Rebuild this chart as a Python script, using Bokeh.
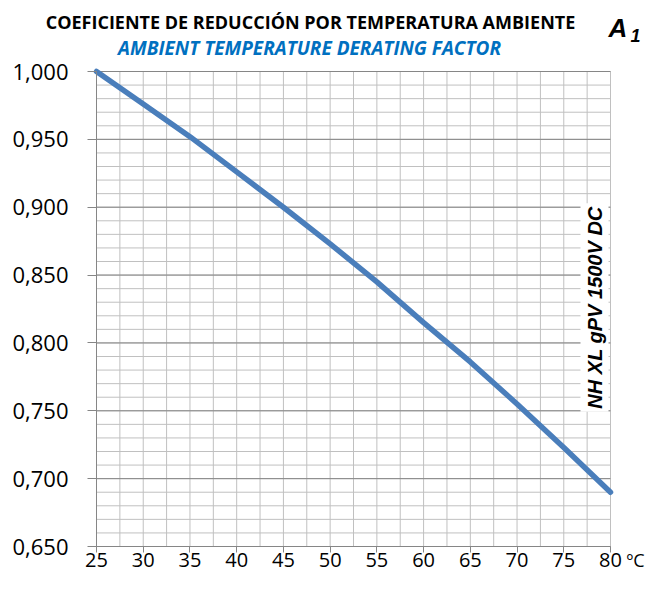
from bokeh.plotting import figure
from bokeh.models import Range1d, FixedTicker, CustomJSTickFormatter, Label
from bokeh.core.properties import value
from bokeh.embed import file_html
from bokeh.resources import INLINE
import math

# ---- data ----
temps = [25, 30, 35, 40, 45, 50, 55, 60, 65, 70, 75, 80]
factor = [1.000, 0.976, 0.952, 0.926, 0.900, 0.873, 0.845, 0.815, 0.786, 0.755, 0.723, 0.690]
x_ticks = [25, 30, 35, 40, 45, 50, 55, 60, 65, 70, 75, 80]
x_labels = ["25", "30", "35", "40", "45", "50", "55", "60", "65", "70", "75", "80"]
x_minor = [25 + 2.5 * i for i in range(23)]
y_ticks = [0.65, 0.70, 0.75, 0.80, 0.85, 0.90, 0.95, 1.00]
y_labels = ["0,650", "0,700", "0,750", "0,800", "0,850", "0,900", "0,950", "1,000"]
y_minor = [round(0.65 + 0.01 * i, 2) for i in range(36)]
x_lo, x_hi = 25, 80
y_lo, y_hi = 0.65, 1.0
title_es = "COEFICIENTE DE REDUCCIÓN POR TEMPERATURA AMBIENTE"
title_en = "AMBIENT TEMPERATURE DERATING FACTOR"
side_text = "NH XL gPV 1500V DC"
unit_text = "ºC"

# ---- layout (pixels) ----
W, H = 645, 573
FL, FB = 10, 567            # frame left / bottom pixel
PX_L, PX_R = 96, 610        # pixels of x = 25 and x = 80
PX_T, PX_B = 71, 546        # pixels of y = 1.0 and y = 0.65
sx = (PX_R - PX_L) / (x_hi - x_lo)     # px per unit x
ky = (y_hi - y_lo) / (PX_B - PX_T)     # y units per px

def dx(px):
    return x_lo + (px - PX_L) / sx

def dy(py):
    return y_lo + (PX_B - py) * ky

p = figure(width=W, height=H, output_backend="svg", toolbar_location=None,
           x_range=Range1d(dx(FL), dx(W)), y_range=Range1d(dy(FB), dy(0)),
           min_border=0)
p.min_border_left = FL
p.min_border_bottom = H - FB
p.outline_line_color = None
p.background_fill_color = "white"
p.border_fill_color = "white"
p.xgrid.visible = False
p.ygrid.visible = False

dark = "#868686"
light = "#c0c0c0"

p.xaxis.ticker = FixedTicker(ticks=x_ticks)
p.yaxis.ticker = FixedTicker(ticks=y_ticks)
p.xaxis.bounds = (x_lo, x_hi)
p.yaxis.bounds = (y_lo, y_hi)
p.xaxis.fixed_location = y_lo
p.yaxis.fixed_location = x_lo
for ax in (p.xaxis, p.yaxis):
    ax.formatter = CustomJSTickFormatter(code="return '';")
    ax.major_label_text_font_size = "1px"
    ax.major_label_standoff = 0
    ax.axis_line_color = dark
    ax.axis_line_width = 1
    ax.major_tick_line_color = dark
    ax.major_tick_in = 0
    ax.minor_tick_line_color = None
p.yaxis.major_tick_out = 9
p.xaxis.major_tick_out = 6

# grid drawn through the scales
p.segment(x0=x_minor, y0=y_lo, x1=x_minor, y1=y_hi, line_color=light, line_width=1)
p.segment(x0=x_lo, y0=y_minor, x1=x_hi, y1=y_minor, line_color=light, line_width=1)
p.segment(x0=x_lo, y0=y_ticks, x1=x_hi, y1=y_ticks, line_color=dark, line_width=1)

p.line(temps, factor, line_color="#4a7ebb", line_width=5.5, line_cap="round")

# tick labels
p.text(x=[dx(68)] * len(y_ticks), y=y_ticks, text=y_labels, text_align="right",
       text_baseline="middle", text_font=value("Open Sans"), text_font_size="22px",
       text_color="black")
p.text(x=x_ticks, y=[dy(559)] * len(x_ticks), text=x_labels, text_align="center",
       text_baseline="middle", text_font=value("Open Sans"), text_font_size="20px",
       text_color="black")

def lab(x, y, text, **kw):
    p.add_layout(Label(x=x, y=y, x_units="canvas", y_units="canvas", text=text, **kw))

lab(310, 21, title_es, text_align="center", text_baseline="middle",
    text_font="Open Sans", text_font_style="bold", text_font_size="18px", text_color="black")
lab(309, 47, title_en, text_align="center", text_baseline="middle",
    text_font="Open Sans", text_font_style="bold italic", text_font_size="19px", text_color="#0070c0")
lab(608, 27, "A", text_align="left", text_baseline="middle",
    text_font="Liberation Sans", text_font_style="bold italic", text_font_size="26px", text_color="black")
lab(630, 35, "1", text_align="left", text_baseline="middle",
    text_font="Liberation Sans", text_font_style="bold italic", text_font_size="18px", text_color="black")
lab(594, 307, side_text, text_align="center", text_baseline="middle", angle=math.pi / 2,
    text_font="Liberation Sans", text_font_style="bold italic", text_font_size="20px",
    text_color="black", background_fill_color="white", padding=3)
lab(626, 559, unit_text, text_align="left", text_baseline="middle",
    text_font="Open Sans", text_font_size="18px", text_color="black")

open("out.html", "w").write(file_html(p, INLINE))
